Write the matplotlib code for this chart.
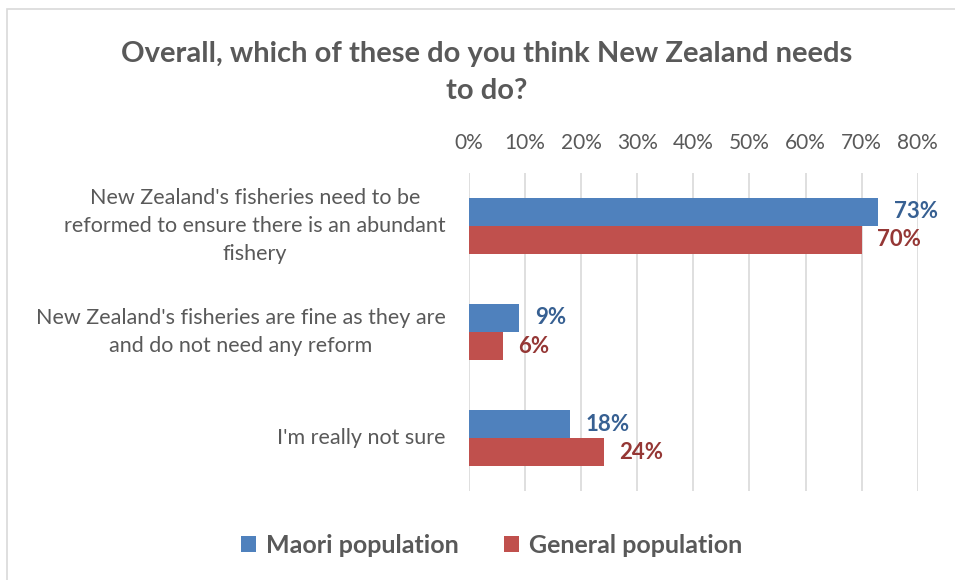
import matplotlib.pyplot as plt
import numpy as np
from matplotlib.patches import Rectangle

plt.rcParams['font.family'] = ['Lato', 'DejaVu Sans']

categories = ["New Zealand's fisheries need to be\nreformed to ensure there is an abundant\nfishery",
              "New Zealand's fisheries are fine as they are\nand do not need any reform",
              "I'm really not sure"]
maori = [73, 9, 18]
general = [70, 6, 24]
series_names = ['Maori population', 'General population']
ticks = [0, 10, 20, 30, 40, 50, 60, 70, 80]

grey = '#595959'
blue, red = '#4F81BD', '#C0504D'
blue_txt, red_txt = '#376092', '#953735'

fig = plt.figure(figsize=(9.55, 5.8), dpi=100)
ax = fig.add_axes([0.491, 0.153, 0.470, 0.549])

# light border round the chart area
fig.patches.append(Rectangle((7 / 955, -0.05), 1.1, 1 - 9 / 580 + 0.05,
                             transform=fig.transFigure, fill=False,
                             edgecolor='#D9D9D9', lw=1.2))

y = np.arange(len(categories))
h = 0.265
b1 = ax.barh(y - h / 2, maori, height=h, color=blue, label=series_names[0])
b2 = ax.barh(y + h / 2, general, height=h, color=red, label=series_names[1])

for bar, v in zip(b1, maori):
    ax.text(v + 2.8, bar.get_y() + bar.get_height() / 2, f'{v}%', va='center',
            ha='left', color=blue_txt, fontsize=16, fontweight='bold')
for bar, v in zip(b2, general):
    ax.text(v + 2.8, bar.get_y() + bar.get_height() / 2, f'{v}%', va='center',
            ha='left', color=red_txt, fontsize=16, fontweight='bold')

ax.set_ylim(2.5, -0.5)
ax.set_xlim(0, 80)
ax.set_xticks(ticks)
ax.set_xticklabels([f'{t}%' for t in ticks])
ax.xaxis.tick_top()
ax.tick_params(axis='x', length=0, pad=14, labelsize=15, labelcolor=grey)
ax.set_yticks([])
for yi, cat in zip(y, categories):
    ax.text(-0.052, yi, cat, transform=ax.get_yaxis_transform(), ha='right',
            va='center', multialignment='center', fontsize=15.5, color=grey,
            linespacing=1.5)
ax.grid(axis='x', color='#D9D9D9', lw=1.2)
ax.set_axisbelow(True)
for s in ax.spines.values():
    s.set_visible(False)

fig.text(0.51, 0.875, 'Overall, which of these do you think New Zealand needs\nto do?',
         ha='center', va='center', fontsize=21, fontweight='bold', color=grey,
         linespacing=1.5)

fig.legend(handles=[b1, b2], labels=series_names, loc='center', ncol=2,
           bbox_to_anchor=(0.515, 0.06), frameon=False,
           prop={'weight': 'bold', 'size': 18}, handlelength=0.6,
           handleheight=0.6, columnspacing=1.8, handletextpad=0.4,
           labelcolor=grey)

fig.savefig('out.png', dpi=100)
